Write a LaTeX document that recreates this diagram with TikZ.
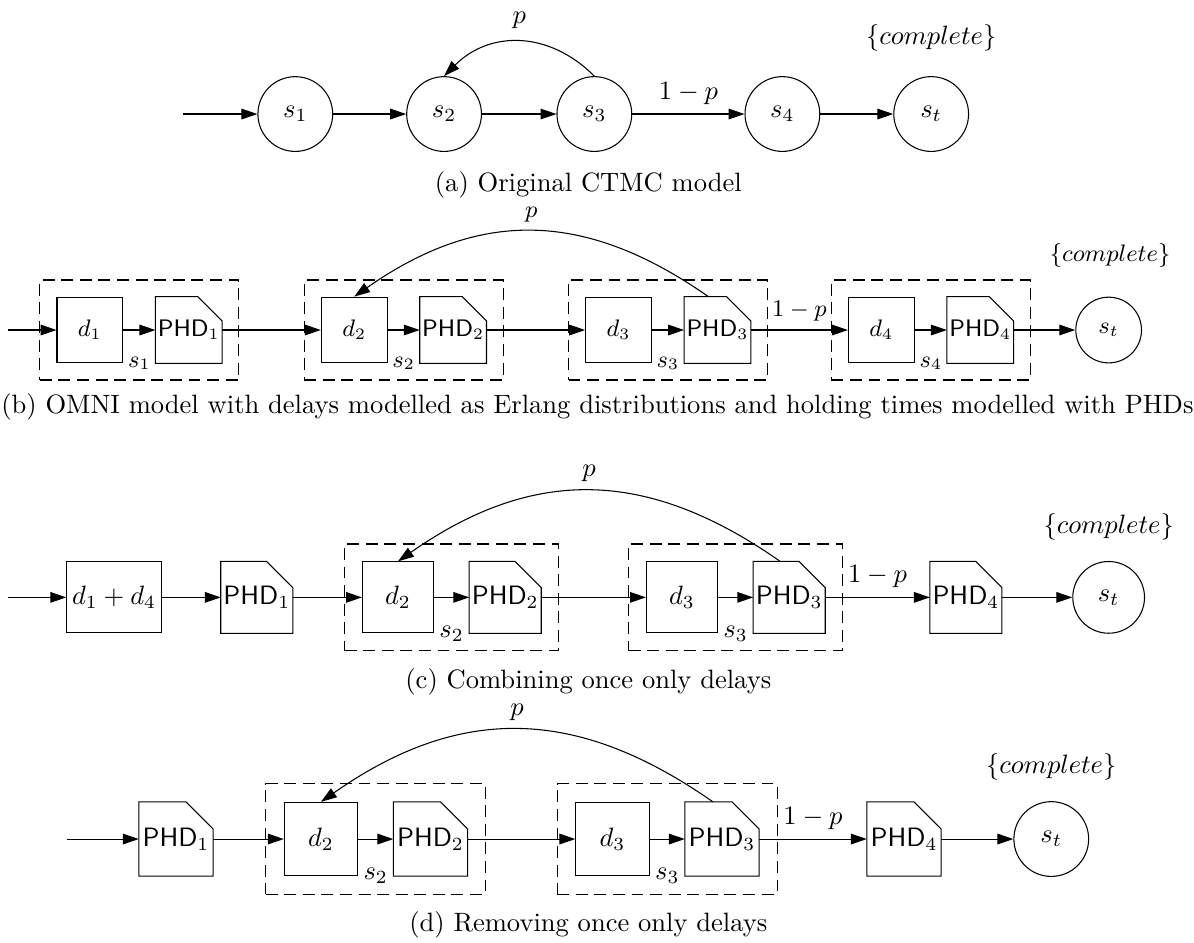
\documentclass[tikz,border=0pt]{standalone}
\usepackage{tikz}
\usepackage{amsmath,amssymb}
\usetikzlibrary{arrows.meta,positioning,fit,calc}

\newcommand{\PHD}[1]{\textsf{PHD}$_{#1}$}

\begin{document}
\begin{tikzpicture}[
  state/.style={draw, circle, minimum size=#1, inner sep=0pt},
  dly/.style={draw, minimum width=#1, minimum height=#1, inner sep=2pt},
  phd/.style={minimum width=#1, minimum height=#1, inner sep=0pt,
    append after command={\pgfextra{\draw (\tikzlastnode.south west) |- ([xshift=-0.37*#1]\tikzlastnode.north east) -- ([yshift=-0.37*#1]\tikzlastnode.north east) -- (\tikzlastnode.south east) -- cycle;}}},
  grp/.style={draw, dash pattern=on 4.5pt off 2.5pt, inner sep=#1},
  arr/.style={-{Triangle[length=6pt,width=4pt]}},
  retry/.style={arr, out=145, in=35, looseness=1.1},
]
  \useasboundingbox (0,0) rectangle (15.81,-12.48);

  % (a) Original CTMC model
  \coordinate (a0) at (2.42,-1.51);
  \node[state=0.99cm] (a1) at (3.91,-1.51) {$s_1$};
  \node[state=0.99cm] (a2) at (5.88,-1.51) {$s_2$};
  \node[state=0.99cm] (a3) at (7.87,-1.51) {$s_3$};
  \node[state=0.99cm] (a4) at (10.36,-1.51) {$s_4$};
  \node[state=0.99cm] (ast) at (12.33,-1.51) {$s_t$};
  \node (acomp) at (12.33,-0.50) {$\{complete\}$};

  \draw[arr] (a0) -- (a1);
  \draw[arr] (a1) -- (a2);
  \draw[arr] (a2) -- (a3);
  \draw[arr] (a3) -- node[above] {$1-p$} (a4);
  \draw[arr] (a4) -- (ast);
  \draw[arr] (a3.north) to[out=135, in=45, looseness=1.1] node[above=1.5pt] {$p$} (a2.north);
  \node (acap) at (7.79,-2.45) {(a) Original CTMC model};

  % (b) OMNI model, Erlang delays + PHD holding times
  \begin{scope}[every node/.append style={font=\small}]
    \coordinate (b0) at (0.11,-4.37);
    \node[dly=0.87cm] (bd1) at (1.19,-4.37) {$d_1$};
    \node[phd=0.87cm] (bh1) at (2.50,-4.37) {\PHD{1}};
    \node[dly=0.87cm] (bd2) at (4.69,-4.37) {$d_2$};
    \node[phd=0.87cm] (bh2) at (6.00,-4.37) {\PHD{2}};
    \node[dly=0.87cm] (bd3) at (8.19,-4.37) {$d_3$};
    \node[phd=0.87cm] (bh3) at (9.50,-4.37) {\PHD{3}};
    \node[dly=0.87cm] (bd4) at (11.67,-4.37) {$d_4$};
    \node[phd=0.87cm] (bh4) at (12.98,-4.37) {\PHD{4}};
    \node[state=0.87cm] (bst) at (14.68,-4.37) {$s_t$};
    \node (bcomp) at (14.70,-3.38) {$\{complete\}$};

    \node[grp=0.22cm, fit=(bd1)(bh1)] (bg1) {};
    \node[grp=0.22cm, fit=(bd2)(bh2)] (bg2) {};
    \node[grp=0.22cm, fit=(bd3)(bh3)] (bg3) {};
    \node[grp=0.22cm, fit=(bd4)(bh4)] (bg4) {};
    \node (bl1) at ($(bd1.south east)!0.5!(bh1.south west)$) {$s_1$};
    \node (bl2) at ($(bd2.south east)!0.5!(bh2.south west)$) {$s_2$};
    \node (bl3) at ($(bd3.south east)!0.5!(bh3.south west)$) {$s_3$};
    \node (bl4) at ($(bd4.south east)!0.5!(bh4.south west)$) {$s_4$};

    \draw[arr] (b0) -- (bd1);
    \draw[arr] (bd1) -- (bh1);
    \draw[arr] (bh1) -- (bd2);
    \draw[arr] (bd2) -- (bh2);
    \draw[arr] (bh2) -- (bd3);
    \draw[arr] (bd3) -- (bh3);
    \draw[arr] (bh3) -- node[above] {$1-p$} (bd4);
    \draw[arr] (bd4) -- (bh4);
    \draw[arr] (bh4) -- (bst);
    \draw[retry] ([xshift=-0.12cm]bh3.north) to node[above] {$p$} (bd2.north);
  \end{scope}
  \node (bcap) at (7.91,-5.39) {(b) OMNI model with delays modelled as Erlang distributions and holding times modelled with PHDs};

  % (c) Combining once only delays
  \coordinate (c0) at (0.11,-7.91);
  \node[dly=0.94cm] (cd1) at (1.51,-7.91) {$d_1+d_4$};
  \node[phd=0.94cm] (ch1) at (3.40,-7.91) {\PHD{1}};
  \node[dly=0.94cm] (cd2) at (5.27,-7.91) {$d_2$};
  \node[phd=0.94cm] (ch2) at (6.69,-7.91) {\PHD{2}};
  \node[dly=0.94cm] (cd3) at (9.03,-7.91) {$d_3$};
  \node[phd=0.94cm] (ch3) at (10.45,-7.91) {\PHD{3}};
  \node[phd=0.94cm] (ch4) at (12.79,-7.91) {\PHD{4}};
  \node[state=0.95cm] (cst) at (14.68,-7.91) {$s_t$};
  \node (ccomp) at (14.68,-6.98) {$\{complete\}$};

  \node[grp=0.23cm, fit=(cd2)(ch2)] (cg2) {};
  \node[grp=0.23cm, fit=(cd3)(ch3)] (cg3) {};
  \node (cl2) at ($(cd2.south east)!0.5!(ch2.south west)$) {$s_2$};
  \node (cl3) at ($(cd3.south east)!0.5!(ch3.south west)$) {$s_3$};

  \draw[arr] (c0) -- (cd1);
  \draw[arr] (cd1) -- (ch1);
  \draw[arr] (ch1) -- (cd2);
  \draw[arr] (cd2) -- (ch2);
  \draw[arr] (ch2) -- (cd3);
  \draw[arr] (cd3) -- (ch3);
  \draw[arr] (ch3) -- node[above] {$1-p$} (ch4);
  \draw[arr] (ch4) -- (cst);
  \draw[retry] ([xshift=-0.12cm]ch3.north) to node[above] {$p$} (cd2.north);
  \node (ccap) at (7.79,-9.03) {(c) Combining once only delays};

  % (d) Removing once only delays
  \coordinate (d0) at (0.89,-11.11);
  \node[phd=0.97cm] (dh1) at (2.33,-11.11) {\PHD{1}};
  \node[dly=0.97cm] (dd2) at (4.25,-11.11) {$d_2$};
  \node[phd=0.97cm] (dh2) at (5.70,-11.11) {\PHD{2}};
  \node[dly=0.97cm] (dd3) at (8.11,-11.11) {$d_3$};
  \node[phd=0.97cm] (dh3) at (9.56,-11.11) {\PHD{3}};
  \node[phd=0.97cm] (dh4) at (11.97,-11.11) {\PHD{4}};
  \node[state=0.99cm] (dst) at (13.92,-11.11) {$s_t$};
  \node (dcomp) at (13.92,-10.16) {$\{complete\}$};

  \node[grp=0.24cm, fit=(dd2)(dh2)] (dg2) {};
  \node[grp=0.24cm, fit=(dd3)(dh3)] (dg3) {};
  \node (dl2) at ($(dd2.south east)!0.5!(dh2.south west)$) {$s_2$};
  \node (dl3) at ($(dd3.south east)!0.5!(dh3.south west)$) {$s_3$};

  \draw[arr] (d0) -- (dh1);
  \draw[arr] (dh1) -- (dd2);
  \draw[arr] (dd2) -- (dh2);
  \draw[arr] (dh2) -- (dd3);
  \draw[arr] (dd3) -- (dh3);
  \draw[arr] (dh3) -- node[above] {$1-p$} (dh4);
  \draw[arr] (dh4) -- (dst);
  \draw[retry] ([xshift=-0.12cm]dh3.north) to node[above] {$p$} (dd2.north);
  \node (dcap) at (7.79,-12.25) {(d) Removing once only delays};
\end{tikzpicture}
\end{document}
